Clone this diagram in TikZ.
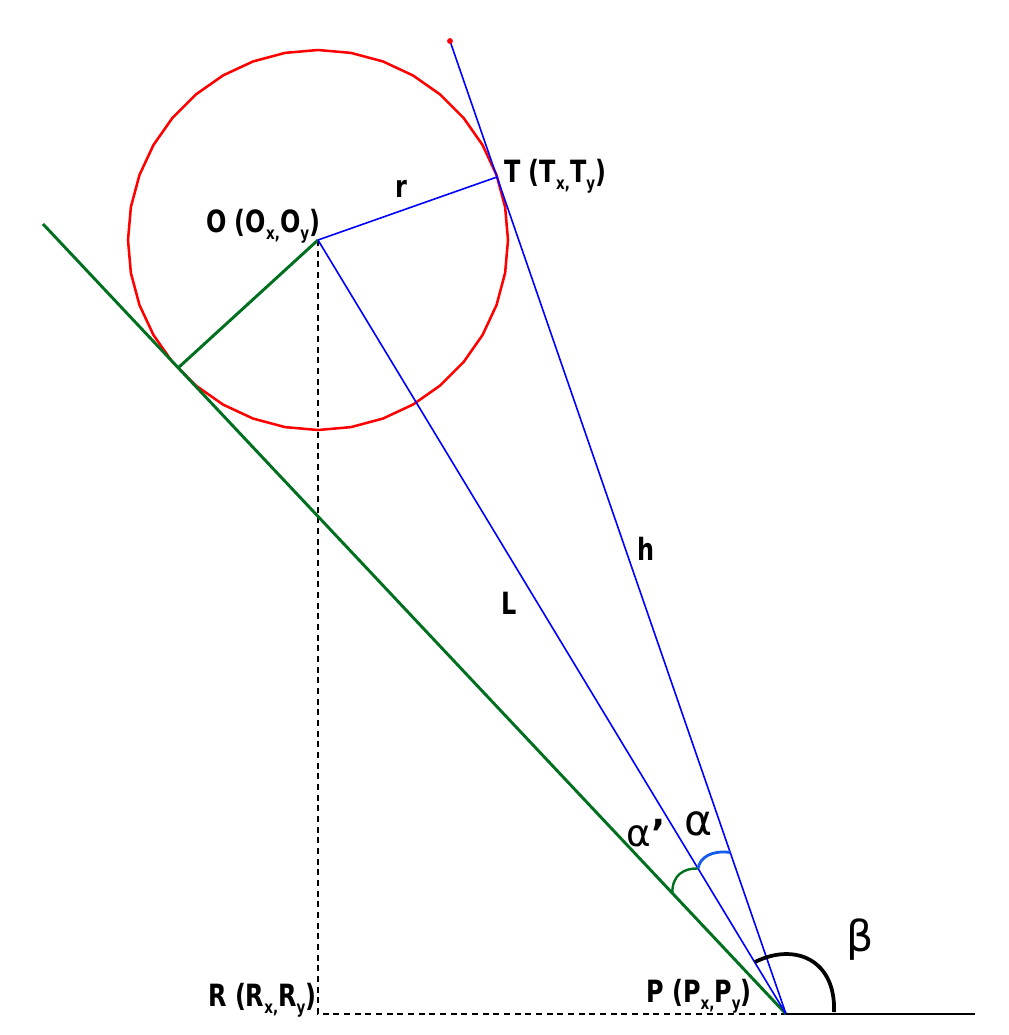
\documentclass[tikz,border=0pt]{standalone}
\usepackage{fontspec}
\setmainfont{DejaVu Sans}
\newfontfamily\lblfont[FakeStretch=0.78]{DejaVu Sans}
\usetikzlibrary{positioning,calc}
\definecolor{grn}{RGB}{0,112,32}
\definecolor{arcblue}{RGB}{20,90,235}
\newcommand\sbs[1]{\raisebox{-0.45ex}{\fontsize{13}{13}\selectfont #1}}

\begin{document}
\begin{tikzpicture}[x=0.75pt,y=-0.75pt,
  lbl/.style={font=\lblfont\fontsize{23}{26}\selectfont\bfseries,inner sep=0pt},
  greek/.style={font=\fontsize{32}{36}\selectfont,inner sep=0pt},
  bl/.style={blue,line width=1.2pt},
  gr/.style={grn,line width=2.2pt},
  circ/.style={red,line width=1.9pt,line join=round},
  dsh/.style={black,line width=1.1pt,dash pattern=on 4.5pt off 3.5pt}]
  \useasboundingbox (0,0) rectangle (1008,1035);

  % points
  \coordinate (O) at (318,240);
  \coordinate (T) at (497,177);
  \coordinate (P) at (786,1014);
  \coordinate (R) at (318,1014);
  \coordinate (K) at (178,368);
  \coordinate (G) at (43,224);
  \coordinate (E) at (975,1014);
  \coordinate (S) at (450,41);

  % circle
  \draw[circ] ([shift={(0:190)}]O)
    \foreach \a in {10,20,...,350}{ -- ([shift={(\a:190)}]O) } -- cycle;

  % dashed
  \draw[dsh] (O) -- (R) -- (P);

  % lines
  \draw[gr] (G) -- (P);
  \draw[gr] (O) -- (K);
  \draw[bl] (O) -- (P);
  \draw[bl] (O) -- (T);
  \draw[bl] (S) -- (P);
  \draw[black,line width=2.2pt] (P) -- (E);
  \fill[red] (S) circle (2.2pt);

  % angles
  \coordinate (a1) at ($(P)!0.153!(G)$);
  \coordinate (a2) at ($(P)!0.188!(O)$);
  \coordinate (a3) at ($(P)!0.166!(S)$);
  \draw[grn,line width=1.8pt] (a1) .. controls (672,875) and (684,868) .. (a2);
  \draw[arcblue,line width=2.1pt] (a2) .. controls (700,857) and (712,850) .. (a3);
  \draw[black,line width=2.8pt] (755,962) .. controls (795,942) and (836,960) .. (834,1012);

  % labels
  \node[lbl,anchor=base west] (Ol) at (206,232) {O (O\sbs{x,}O\sbs{y})};
  \node[lbl,anchor=base west] (Tl) at (504,182) {T (T\sbs{x,}T\sbs{y})};
  \node[lbl,anchor=base west] (Rl) at (208,1006) {R (R\sbs{x,}R\sbs{y})};
  \node[lbl,anchor=base west] (Pl) at (646,1002) {P (P\sbs{x,}P\sbs{y})};
  \node[lbl] (rl) at (401,189) {r};
  \node[lbl] (hl) at (646,549) {h};
  \node[lbl] (Ll) at (509,603) {L};
  \node[greek,font=\fontsize{28}{32}\selectfont] (alp2) at (646,833) {α\textbf{’}};
  \node[greek] (alp) at (699,824) {α};
  \node[greek] (bet) at (860,940) {β};
\end{tikzpicture}
\end{document}
